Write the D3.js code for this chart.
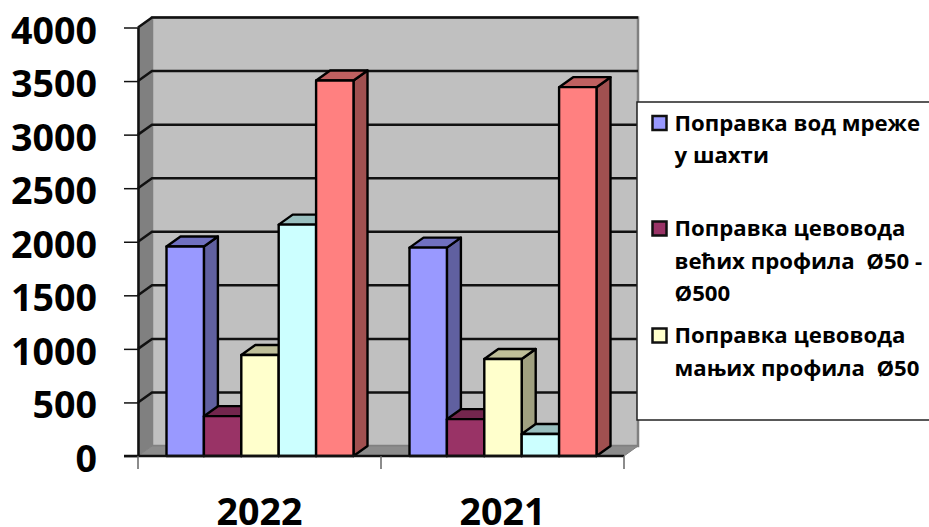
<!DOCTYPE html>
<html>
<head>
<meta charset="utf-8">
<script src="https://cdn.jsdelivr.net/npm/d3@7"></script>
<style>
html, body { margin: 0; padding: 0; background: #fff; }
text { font-family: "Open Sans", sans-serif; font-weight: 700; fill: #000; }
</style>
</head>
<body>
<div id="chart"></div>
<script>
const categories = ['2022', '2021'];
const seriesNames = ['s1', 's2', 's3', 's4', 's5'];
const seriesColors = ['#9999ff', '#993366', '#ffffcc', '#ccffff', '#ff8080'];
const seriesTop = ['#7070c0', '#73264d', '#bfbf99', '#99bfbf', '#bf6060'];
const seriesSide = ['#6060a0', '#602040', '#a0a080', '#80a0a0', '#a05050'];
const values2022 = [1955, 372, 943, 2160, 3505];
const values2021 = [1945, 344, 905, 206, 3443];
const yTicks = [0, 500, 1000, 1500, 2000, 2500, 3000, 3500, 4000];
const legendItems = [
	['Поправка вод мреже', 'у шахти'],
	['Поправка цевовода', 'већих профила  Ø50 -', 'Ø500'],
	['Поправка цевовода', 'мањих профила  Ø50']
];
const legendColors = seriesColors.slice(0, 3);

const width = 929, height = 527;
const left = 138, right = 624, bottom = 456, plotTop = 27.5;
const dx = 14, dy = -10;

const y = d3.scaleLinear().domain([0, 4000]).range([bottom, plotTop]);
const x0 = d3.scaleBand().domain(categories).range([left, right]);
const x1 = d3.scaleBand().domain(seriesNames).range([28.5, 243 - 27.5]);

const svg = d3.select('#chart').append('svg')
	.attr('width', width)
	.attr('height', height)
	.style('display', 'block');

const poly = pts => pts.map(p => p.join(',')).join(' ');

// walls
svg.append('polygon')
	.attr('points', poly([[left + dx, plotTop + dy], [right + dx, plotTop + dy], [right + dx, bottom + dy], [left + dx, bottom + dy]]))
	.attr('fill', '#c0c0c0').attr('stroke', '#808080').attr('stroke-width', 2.5);
svg.append('polygon')
	.attr('points', poly([[left, plotTop], [left + dx, plotTop + dy], [left + dx, bottom + dy], [left, bottom]]))
	.attr('fill', '#808080').attr('stroke', '#808080').attr('stroke-width', 1);
svg.append('polygon')
	.attr('points', poly([[left, bottom], [right, bottom], [right + dx, bottom + dy], [left + dx, bottom + dy]]))
	.attr('fill', '#8c8c8c').attr('stroke', '#808080').attr('stroke-width', 1);

// grid
const grid = svg.append('g').attr('fill', 'none').attr('stroke', '#111').attr('stroke-width', 2.5);
yTicks.slice(1).forEach(t => {
	grid.append('polyline')
		.attr('points', poly([[left, y(t)], [left + dx, y(t) + dy], [right + dx, y(t) + dy]]));
});

// y axis
const yAxis = svg.append('g')
	.attr('transform', 'translate(' + left + ',0)')
	.call(d3.axisLeft(y).tickValues(yTicks).tickSize(14).tickSizeOuter(0).tickPadding(27).tickFormat(d3.format('d')));
yAxis.select('.domain').attr('stroke', '#111').attr('stroke-width', 2.5);
yAxis.selectAll('line').attr('stroke', '#111').attr('stroke-width', 1.5);
yAxis.selectAll('text').attr('font-size', 37.6).attr('dy', 15.5).attr('font-family', null);

// bars
const rows = [values2022, values2021];
categories.forEach((c, ci) => {
	const g = svg.append('g').attr('transform', 'translate(' + x0(c) + ',0)')
		.attr('stroke', '#000').attr('stroke-width', 2.4).attr('stroke-linejoin', 'round');
	seriesNames.forEach((s, i) => {
		const v = rows[ci][i];
		const a = x1(s), b = a + x1.bandwidth(), t = y(v);
		g.append('polygon')
			.attr('points', poly([[b, t], [b + dx, t + dy], [b + dx, bottom + dy], [b, bottom]]))
			.attr('fill', seriesSide[i]);
		g.append('polygon')
			.attr('points', poly([[a, t], [a + dx, t + dy], [b + dx, t + dy], [b, t]]))
			.attr('fill', seriesTop[i]);
		g.append('rect')
			.attr('x', a).attr('y', t)
			.attr('width', x1.bandwidth()).attr('height', bottom - t)
			.attr('fill', seriesColors[i]);
	});
});

// x axis
const xAxisG = svg.append('g').attr('stroke', '#111');
xAxisG.append('line').attr('x1', left - 14).attr('x2', right).attr('y1', bottom).attr('y2', bottom).attr('stroke-width', 2.5);
[left, left + x0.bandwidth(), right].forEach(p => {
	xAxisG.append('line').attr('x1', p).attr('x2', p).attr('y1', bottom).attr('y2', bottom + 13).attr('stroke', '#666').attr('stroke-width', 1.5);
});
svg.selectAll('.cat').data(categories).enter().append('text')
	.attr('class', 'cat')
	.attr('x', d => x0(d) + x0.bandwidth() / 2)
	.attr('y', 525)
	.attr('text-anchor', 'middle')
	.attr('font-size', 37.6)
	.text(d => d);

// legend
const legend = svg.append('g');
legend.append('rect').attr('x', 637).attr('y', 102).attr('width', 300).attr('height', 318)
	.attr('fill', '#fff').attr('stroke', '#222').attr('stroke-width', 1.5);
const legendY = [130.5, 236, 343];
legendItems.forEach((lines, i) => {
	const g = legend.append('g').attr('transform', 'translate(0,' + legendY[i] + ')');
	g.append('rect').attr('x', 652.5).attr('y', -14.5).attr('width', 14).attr('height', 14)
		.attr('fill', legendColors[i]).attr('stroke', '#111').attr('stroke-width', 2.5);
	lines.forEach((l, j) => {
		g.append('text').attr('x', 674.5).attr('y', j * 32.5).attr('font-size', 22.2)
			.style('white-space', 'pre').text(l);
	});
});
</script>
</body>
</html>
